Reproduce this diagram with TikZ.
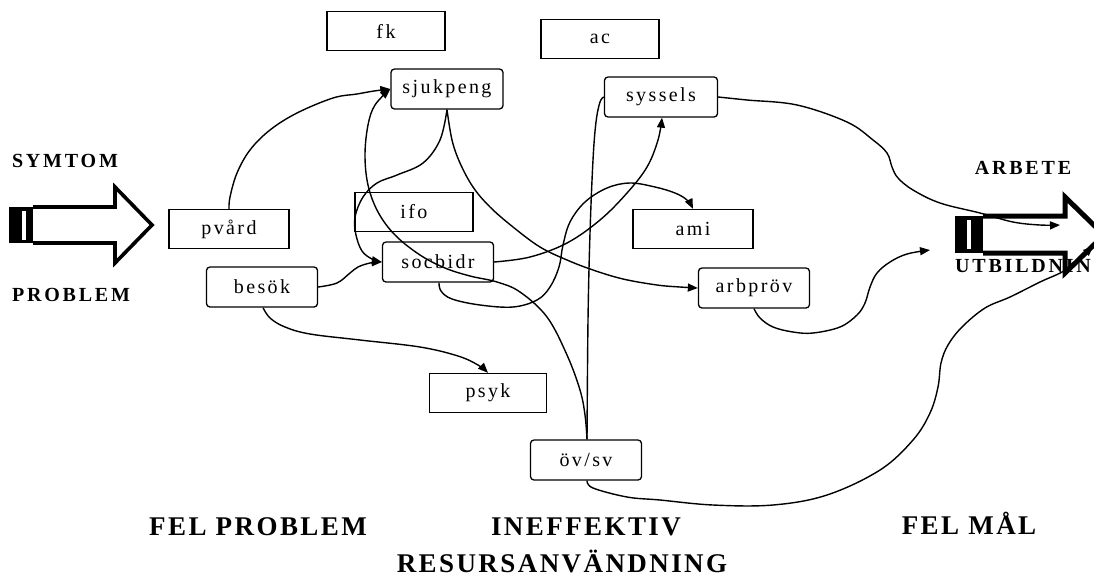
\documentclass[tikz,border=0pt]{standalone}
\usepackage{fontspec}
\setmainfont{Liberation Serif}
\newfontfamily\boxfont[LetterSpace=12]{Liberation Serif}
\newfontfamily\lblfont[LetterSpace=14]{Liberation Serif}
\newfontfamily\bigfont[LetterSpace=9]{Liberation Serif}
\usetikzlibrary{arrows.meta}
\begin{document}
\begin{tikzpicture}[x=1pt,y=-1pt,
  box/.style={draw,line width=1.3pt,minimum width=118pt,minimum height=39pt,inner sep=0pt,
    font=\boxfont\fontsize{20}{22}\selectfont},
  rbox/.style={box,rounded corners=3.5pt,minimum width=111pt,minimum height=40pt},
  conn/.style={line width=1.4pt,line join=round},
  tip/.style={-{Triangle[length=10pt,width=8pt]}},
  lbl/.style={font=\lblfont\bfseries\fontsize{20}{22}\selectfont,inner sep=0pt},
  big/.style={font=\bigfont\bfseries\fontsize{27}{29}\selectfont,inner sep=0pt},
  fat/.style={line width=3.6pt,line join=miter}]
\clip (0,0) rectangle (1094,582);
\fill[white] (0,0) rectangle (1094,582);

% nodes
\node[box]  (fk)       at (386,31)  {fk};
\node[box]  (ac)       at (600,39)  {ac};
\node[rbox,minimum width=112pt] (sjukpeng) at (447,89)  {sjukpeng};
\node[rbox,minimum width=113pt] (syssels)  at (661,97)  {syssels};
\node[box]  (ifo)      at (414,212) {ifo};
\node[box,minimum width=120pt]  (pvard)    at (229,229) {pvård};
\node[box,minimum width=120pt]  (ami)      at (693,229) {ami};
\node[rbox] (socbidr)  at (438,262) {socbidr};
\node[rbox] (besok)    at (262,287) {besök};
\node[rbox] (arbprov)  at (754,288) {arbpröv};
\node[box,minimum width=117pt]  (psyk)     at (488,393) {psyk};
\node[rbox] (ovsv)     at (586,460) {öv/sv};

% left block arrow
\fill (9,207) rectangle (33,243);
\fill[white] (22,211) rectangle (25.5,240);
\draw[fat] (33,207) -- (115,207) -- (115,187) -- (152,225) -- (115,263) -- (115,243) -- (33,243);
% right block arrow
\fill (955,216) rectangle (983,253);
\fill[white] (967,220) rectangle (971,249);
\draw[line width=5pt,line join=miter] (983,216) -- (1065,216) -- (1065,197) -- (1104,235) -- (1065,273) -- (1065,253) -- (983,253);

% labels
\node[lbl] (symtom)  at (65,161)  {SYMTOM};
\node[lbl] (problem) at (71,295)  {PROBLEM};
\node[lbl] (arbete)  at (1023,168) {ARBETE};
\node[lbl,anchor=west] (utb) at (955,266) {UTBILDNING};
\node[big] (felprob) at (258,527) {FEL PROBLEM};
\node[big] (ineff)   at (586,527) {INEFFEKTIV};
\node[big] (resurs)  at (562,561) {RESURSANVÄNDNING};
\node[big] (felmal)  at (969,523) {FEL MÅL};

% free ends
\coordinate (tipA) at (930,250);
\coordinate (tipB) at (1060,225);
\coordinate (tipC) at (1093,246);

% connectors
\draw[conn,tip] plot[smooth,tension=0.6] coordinates {(pvard.north) (230,197) (237,173) (250,150) (270,130) (297,113) (333,98) (357,94) (374,91) (sjukpeng.west)};
\draw[conn,tip] plot[smooth,tension=0.6] coordinates {(besok.east) (337,283) (350,273) (358,267) (370,263) (socbidr.west)};
\draw[conn,tip] plot[smooth,tension=0.6] coordinates {([xshift=1pt]besok.south) (270,318) (285,327) (310,334) (360,340) (420,347) (458,356) (478,365) (psyk.north)};
\draw[conn,tip] plot[smooth,tension=0.6] coordinates {(sjukpeng.south) (440,140) (423,163) (397,175) (377,183) (363,197) (355,217) (356,235) (362,251) (372,259) (socbidr.west)};
\draw[conn,tip] plot[smooth,tension=0.6] coordinates {([xshift=1pt]ovsv.north) (585,415) (580,390) (567,355) (547,317) (520,292) (497,282) (470,276) (445,268) (420,255) (395,235) (378,212) (368,185) (365,155) (368,125) (375,105) (sjukpeng.west)};
\draw[conn] plot[smooth,tension=0.6] coordinates {([xshift=1pt]ovsv.north) (588,320) (590,233) (593,160) (596,122) (600,102) (syssels.west)};
\draw[conn,tip] plot[smooth,tension=0.6] coordinates {(socbidr.east) (530,257) (567,243) (600,220) (627,193) (647,167) (658,140) ([xshift=1pt]syssels.south)};
\draw[conn,tip] plot[smooth,tension=0.6] coordinates {([xshift=1pt]socbidr.south) (441,291) (452,299) (480,305) (513,307) (537,300) (550,287) (559,267) (563,245) (570,222) (585,202) (607,188) (630,183) (655,187) (675,193) (687,200) (ami.north)};
\draw[conn,tip] plot[smooth,tension=0.6] coordinates {(sjukpeng.south) (452,140) (460,163) (473,187) (490,207) (513,227) (540,247) (567,260) (593,270) (623,279) (657,285) (680,287) (arbprov.west)};
\draw[conn,tip] plot[smooth,tension=0.6] coordinates {(arbprov.south) (760,318) (773,327) (793,332) (813,333) (840,327) (857,315) (865,303) (870,287) (877,273) (890,262) (907,254) (tipA)};
\draw[conn,tip] plot[smooth,tension=0.6] coordinates {(syssels.east) (747,100) (797,105) (847,122) (873,140) (887,153) (892,167) (898,178) (913,190) (940,203) (980,213) (1013,222) (1040,225) (tipB)};
\draw[conn,tip] plot[smooth,tension=0.6] coordinates {([xshift=1pt]ovsv.south) (593,488) (627,497) (660,500) (713,505) (773,505) (827,495) (880,470) (913,440) (930,413) (938,387) (941,363) (948,345) (962,327) (985,308) (1010,297) (1040,282) (1067,269) (tipC)};
\end{tikzpicture}
\end{document}
